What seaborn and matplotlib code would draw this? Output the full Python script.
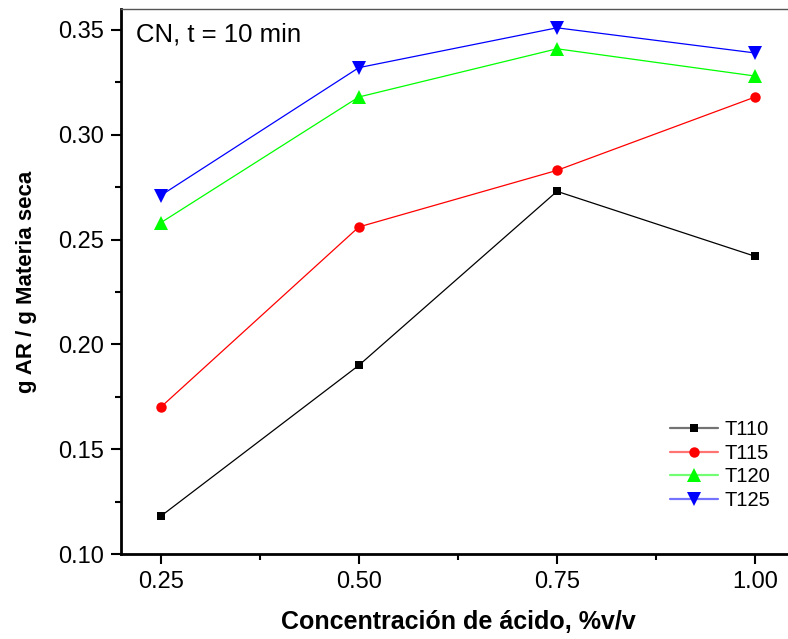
import matplotlib
matplotlib.use('Agg')
import matplotlib.pyplot as plt
from matplotlib.ticker import MultipleLocator, FormatStrFormatter
from matplotlib.colors import to_rgba
import pandas as pd
import seaborn as sns

# datos
acido = [0.25, 0.50, 0.75, 1.00]
t110 = [0.118, 0.190, 0.273, 0.242]
t115 = [0.170, 0.256, 0.283, 0.318]
t120 = [0.258, 0.318, 0.341, 0.328]
t125 = [0.271, 0.332, 0.351, 0.339]
series = ['T110', 'T115', 'T120', 'T125']

df = pd.DataFrame({
    'x': acido * 4,
    'y': t110 + t115 + t120 + t125,
    'serie': [s for s in series for _ in acido],
})

sns.set_style('ticks')
plt.rcParams['font.family'] = ['Liberation Sans', 'DejaVu Sans']
plt.rcParams['text.color'] = 'black'
plt.rcParams['axes.labelcolor'] = 'black'
plt.rcParams['xtick.color'] = 'black'
plt.rcParams['ytick.color'] = 'black'

fig = plt.figure(figsize=(7.88, 6.39), dpi=100)
ax = fig.add_axes([0.1536, 0.133, 0.855, 0.853])

colores = {'T110': 'black', 'T115': 'red', 'T120': '#00ff00', 'T125': 'blue'}
marcas = {'T110': 's', 'T115': 'o', 'T120': '^', 'T125': 'v'}
tam = {'T110': 6, 'T115': 7.5, 'T120': 9.5, 'T125': 9.5}

for s in series:
    sub = df[df['serie'] == s]
    sns.lineplot(x='x', y='y', data=sub, color=colores[s], marker=marcas[s],
                 markersize=tam[s], markeredgewidth=0, linewidth=0.9,
                 label=s, ax=ax)

ax.set_xlim(0.20, 1.05)
ax.set_ylim(0.10, 0.36)
ax.xaxis.set_major_locator(MultipleLocator(0.25))
ax.xaxis.set_minor_locator(MultipleLocator(0.125))
ax.yaxis.set_major_locator(MultipleLocator(0.05))
ax.yaxis.set_minor_locator(MultipleLocator(0.025))
ax.tick_params(which='major', direction='out', length=7.5, width=1.5,
               labelsize=17, pad=5)
ax.tick_params(which='minor', direction='out', length=4.5, width=1.5)
ax.xaxis.set_major_formatter(FormatStrFormatter('%.2f'))
ax.yaxis.set_major_formatter(FormatStrFormatter('%.2f'))

for lado in ['left', 'bottom']:
    ax.spines[lado].set_linewidth(2)
    ax.spines[lado].set_color('black')
ax.spines['top'].set_linewidth(1)
ax.spines['top'].set_color('#555555')
ax.spines['right'].set_visible(False)

ax.set_xlabel('Concentración de ácido, %v/v', fontsize=18, fontweight='bold', labelpad=12)
ax.set_ylabel('g AR / g Materia seca', fontsize=16, fontweight='bold', labelpad=15)
ax.text(0.022, 0.975, 'CN, t = 10 min', transform=ax.transAxes, fontsize=18.5,
        va='top', ha='left')

leg = ax.legend(loc='lower left', bbox_to_anchor=(0.788, 0.048), frameon=False,
                fontsize=14.5, handlelength=2.4, labelspacing=0.22, handletextpad=0.3)
# lineas de la leyenda mas claras, marcadores solidos
for h in leg.get_lines():
    c = h.get_color()
    h.set_markerfacecolor(c)
    h.set_markeredgecolor(c)
    h.set_color(to_rgba(c, 0.55))
    h.set_linewidth(1.6)

plt.savefig('out.png', dpi=100)
